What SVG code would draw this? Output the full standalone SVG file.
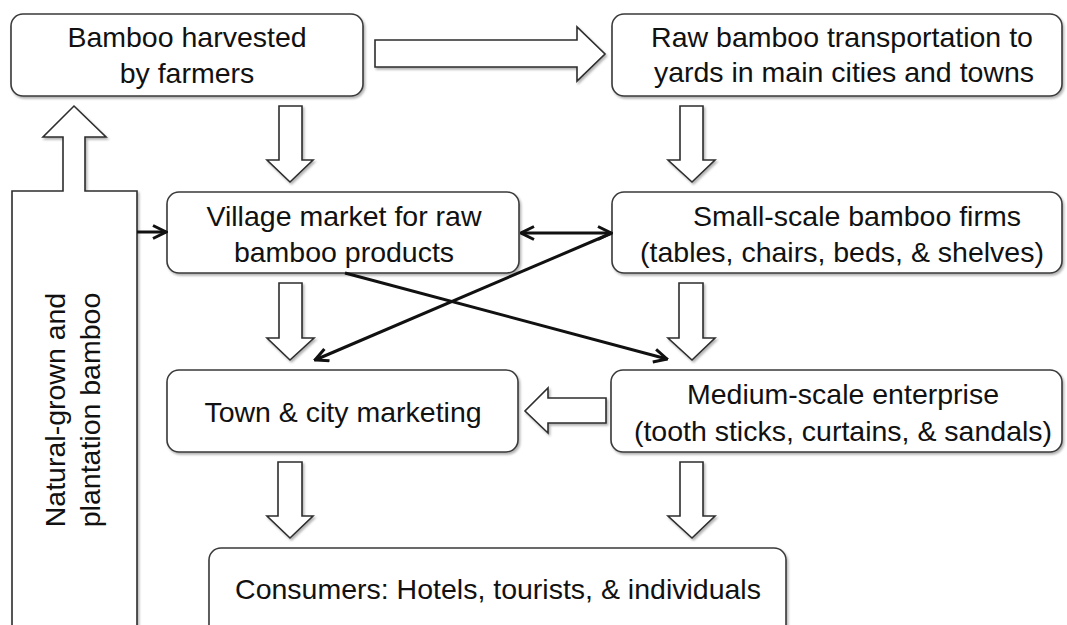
<svg xmlns="http://www.w3.org/2000/svg" width="1067" height="625" viewBox="0 0 1067 625">
<style>
.box{fill:#fff;stroke:#3a3a3a;stroke-width:1.6;filter:url(#sh)}
.blk{fill:#fff;stroke:#2e2e2e;stroke-width:1.6;stroke-linejoin:miter;filter:url(#sh)}
.t{font-family:"Liberation Sans",Arial,sans-serif;font-size:28.5px;fill:#111;text-anchor:middle}
.ln{fill:none;stroke:#111;stroke-width:3}
</style>
<defs>
<filter id="sh" x="-5%" y="-5%" width="115%" height="115%">
<feDropShadow dx="1.5" dy="2" stdDeviation="1.2" flood-color="#000" flood-opacity="0.3"/>
</filter>
<marker id="ah" viewBox="0 0 16 16" refX="14.5" refY="8" markerWidth="16" markerHeight="16" markerUnits="userSpaceOnUse" orient="auto-start-reverse">
<path d="M1.5,1.5 L14.5,8 L1.5,14.5" fill="none" stroke="#111" stroke-width="3" stroke-linejoin="miter"/>
</marker>
</defs>
<rect width="1067" height="625" fill="#fff"/>

<g id="source">
<path class="blk" d="M12,191 L63,191 L63,137 L43,137 L74,106 L106,137 L85,137 L85,191 L137,191 L137,640 L12,640 Z"/>
<g transform="translate(65,410) rotate(-90)">
<text class="t" x="0" y="0">Natural-grown and</text>
<text class="t" x="0" y="35">plantation bamboo</text>
</g>
</g>

<g id="harvested">
<rect class="box" x="11" y="14" width="352" height="82" rx="12"/>
<text class="t" x="187" y="47">Bamboo harvested</text>
<text class="t" x="187" y="83">by farmers</text>
</g>

<g id="transport">
<rect class="box" x="612" y="14" width="450" height="82" rx="12"/>
<text class="t" x="842" y="47">Raw bamboo transportation to</text>
<text class="t" x="844" y="82">yards in main cities and towns</text>
</g>

<g id="village">
<rect class="box" x="167" y="192" width="352" height="81" rx="12"/>
<text class="t" x="344" y="226">Village market for raw</text>
<text class="t" x="344" y="262">bamboo products</text>
</g>

<g id="small">
<rect class="box" x="612" y="192" width="450" height="81" rx="12"/>
<text class="t" x="857" y="226">Small-scale bamboo firms</text>
<text class="t" x="842" y="262">(tables, chairs, beds, &amp; shelves)</text>
</g>

<g id="town">
<rect class="box" x="167" y="370" width="351" height="82" rx="12"/>
<text class="t" x="343" y="422">Town &amp; city marketing</text>
</g>

<g id="medium">
<rect class="box" x="611" y="370" width="451" height="82" rx="12"/>
<text class="t" x="843" y="404">Medium-scale enterprise</text>
<text class="t" x="843" y="441">(tooth sticks, curtains, &amp; sandals)</text>
</g>

<g id="consumers">
<rect class="box" x="209" y="548" width="577" height="100" rx="12"/>
<text class="t" x="498" y="599">Consumers: Hotels, tourists, &amp; individuals</text>
</g>

<g id="connectors">
<path class="blk" d="M375,40 L577,40 L577,27 L605,54 L577,81 L577,67 L375,67 Z"/>
<path class="blk" d="M279,106 L302,106 L302,160 L313,160 L290,182 L267,160 L279,160 Z"/>
<path class="blk" d="M680,106 L703,106 L703,160 L715,160 L692,182 L668,160 L680,160 Z"/>
<path class="blk" d="M279,283 L302,283 L302,338 L314,338 L290,360 L267,338 L279,338 Z"/>
<path class="blk" d="M679,283 L703,283 L703,338 L715,338 L692,360 L668,338 L679,338 Z"/>
<path class="blk" d="M606,398 L548,398 L548,388 L525,411 L548,433 L548,423 L606,423 Z"/>
<path class="blk" d="M278,462 L302,462 L302,516 L313,516 L290,538 L267,516 L278,516 Z"/>
<path class="blk" d="M680,462 L703,462 L703,516 L715,516 L692,538 L668,516 L680,516 Z"/>
<line class="ln" x1="137" y1="232" x2="166" y2="232" marker-end="url(#ah)"/>
<line class="ln" x1="521" y1="233" x2="611" y2="233" marker-start="url(#ah)" marker-end="url(#ah)"/>
<line class="ln" x1="612" y1="233" x2="315" y2="360" marker-end="url(#ah)"/>
<line class="ln" x1="345" y1="273" x2="667" y2="359" marker-end="url(#ah)"/>
</g>
</svg>
